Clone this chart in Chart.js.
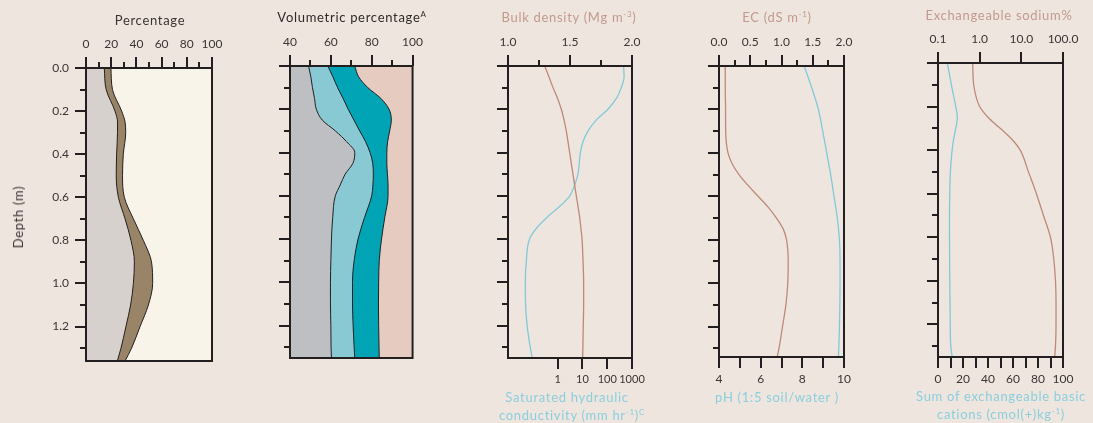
<!DOCTYPE html>
<html>
<head>
<meta charset="utf-8">
<script src="https://cdn.jsdelivr.net/npm/chart.js@4/dist/chart.umd.min.js"></script>
<style>
  body { margin: 0; background: #EFE5DF; font-family: Lato, "Open Sans", sans-serif; }
  #page { position: relative; width: 1093px; height: 423px; overflow: hidden; }
  .box { position: absolute; top: 0; height: 423px; }
  .t { position: absolute; transform: translate(-50%, -50%); white-space: nowrap; font-size: 13px; color: #3a3434; letter-spacing: 0.7px; }
  .t sup { font-size: 8px; vertical-align: 5px; line-height: 0; }
  .brown { color: #C29A8D; }
  .blue { color: #8ACFDD; }
</style>
</head>
<body>
<div id="page">
  <div class="box" style="left:0;width:230px"><canvas id="c1"></canvas></div>
  <div class="box" style="left:230px;width:200px"><canvas id="c2"></canvas></div>
  <div class="box" style="left:460px;width:200px"><canvas id="c3"></canvas></div>
  <div class="box" style="left:680px;width:200px"><canvas id="c4"></canvas></div>
  <div class="box" style="left:890px;width:203px"><canvas id="c5"></canvas></div>

  <div class="t" style="left:150px;top:20px">Percentage</div>
  <div class="t" style="left:352px;top:17px;color:#2e2828">Volumetric percentage<sup>A</sup></div>
  <div class="t brown" style="left:569px;top:17px">Bulk density (Mg m<sup>-3</sup>)</div>
  <div class="t brown" style="left:777px;top:17px">EC (dS m<sup>-1</sup>)</div>
  <div class="t brown" style="left:999px;top:15px">Exchangeable sodium%</div>
  <div class="t" style="left:18px;top:217px;transform:translate(-50%,-50%) rotate(-90deg)">Depth (m)</div>
  <div class="t blue" style="left:567px;top:397px">Saturated hydraulic</div>
  <div class="t blue" style="left:572px;top:415px">conductivity (mm hr<sup>-1</sup>)<sup>C</sup></div>
  <div class="t blue" style="left:777px;top:397px">pH (1:5 soil/water )</div>
  <div class="t blue" style="left:1001px;top:396px">Sum of exchangeable basic</div>
  <div class="t blue" style="left:1001px;top:414px">cations (cmol(+)kg<sup>-1</sup>)</div>
</div>

<script>
// ---- data (depth in m) ----
const depth1 = [0, 0.1, 0.2, 0.25, 0.3, 0.4, 0.5, 0.6, 0.7, 0.8, 0.9, 1.0, 1.1, 1.2, 1.3, 1.36];
const clayEdge = [14.5, 16, 23, 25, 25, 24.3, 24, 25.7, 31, 35.7, 38.4, 37.6, 35.4, 31.7, 27.8, 24.9];
const siltEdge = [19.8, 21, 28.3, 31, 31.5, 29.6, 29, 30.4, 37.6, 45.5, 52, 52.9, 49.5, 42.9, 36.2, 31];

const depth2 = [0, 0.05, 0.1, 0.15, 0.2, 0.25, 0.3, 0.35, 0.4, 0.45, 0.5, 0.55, 0.6, 0.7, 0.8, 0.9, 1.0, 1.1, 1.2, 1.3, 1.35];
const volEdge1 = [49.1, 50.2, 51, 52, 52.9, 55.8, 62.2, 67.7, 71.7, 70.8, 67, 64.6, 62.2, 60.9, 60.3, 60, 59.8, 59.8, 60, 60.1, 60.3];
const volEdge2 = [58.5, 61, 63.3, 66, 68.5, 71.3, 74.1, 77, 79.2, 80.5, 80.8, 80.6, 80, 76.5, 73.3, 71.4, 70.6, 70.6, 70.9, 71.4, 71.7];
const volEdge3 = [71.7, 73.6, 78.1, 84.5, 88.5, 89.6, 88.8, 87.8, 87.4, 87.4, 87.7, 88, 88, 86.4, 84.8, 83.7, 83.4, 83.3, 83.4, 83.6, 83.7];

const depth3 = [0, 0.05, 0.1, 0.15, 0.2, 0.25, 0.3, 0.35, 0.4, 0.5, 0.55, 0.6, 0.65, 0.7, 0.75, 0.8, 0.9, 1.0, 1.1, 1.2, 1.3, 1.35];
const bulkDensity = [1.296, 1.33, 1.363, 1.40, 1.43, 1.452, 1.47, 1.484, 1.497, 1.524, 1.537, 1.551, 1.565, 1.578, 1.588, 1.597, 1.605, 1.61, 1.61, 1.607, 1.604, 1.602];
const ksat = [460, 480, 370, 235, 107, 36, 17, 10.5, 8.3, 6.6, 4.9, 3.1, 1.2, 0.37, 0.14, 0.074, 0.055, 0.05, 0.051, 0.059, 0.079, 0.095];

const depthEC = [0, 0.1, 0.2, 0.3, 0.4, 0.45, 0.5, 0.55, 0.6, 0.65, 0.7, 0.75, 0.8, 0.9, 1.0, 1.1, 1.2, 1.3, 1.34];
const ec = [0.10, 0.10, 0.105, 0.107, 0.144, 0.21, 0.32, 0.465, 0.626, 0.786, 0.92, 1.027, 1.08, 1.107, 1.10, 1.07, 1.016, 0.96, 0.93];
const depthPH = [0, 0.1, 0.2, 0.3, 0.4, 0.5, 0.6, 0.7, 0.8, 0.9, 1.0, 1.1, 1.2, 1.3, 1.34];
const ph = [8.09, 8.45, 8.77, 8.98, 9.17, 9.36, 9.52, 9.68, 9.78, 9.81, 9.81, 9.8, 9.78, 9.75, 9.73];

const depth5 = [0, 0.1, 0.2, 0.25, 0.3, 0.35, 0.4, 0.5, 0.6, 0.7, 0.8, 0.9, 1.0, 1.1, 1.2, 1.3, 1.35];
const sodium = [0.68, 0.72, 1.0, 1.6, 3.1, 5.9, 9.4, 14.8, 23, 34, 50, 60, 66, 68, 68, 66, 63];
const cations = [7.5, 10.7, 14.2, 15.5, 14.2, 12.5, 11.3, 9.9, 9.4, 9.2, 9.2, 9.3, 9.4, 9.6, 9.8, 10.2, 11.3];

const depthTicks = [0, 0.1, 0.2, 0.3, 0.4, 0.5, 0.6, 0.7, 0.8, 0.9, 1.0, 1.1, 1.2, 1.3];
const ksatTicks = [1, 10, 100, 1000];
const ksatLabels = ['1', '10', '100', '1000'];
const sodiumTicks = [0.1, 1, 10, 100];
const sodiumLabels = ['0.1', '1.0', '10.0', '100.0'];

const INK = '#231f20';
const BROWN_LINE = '#BC8A76';
const BLUE_LINE = '#80CAD8';

Chart.defaults.font.family = 'Lato';
Chart.defaults.font.size = 12;
Chart.defaults.color = '#3a3434';

function pts(ys, xs) { return ys.map((y, i) => ({ x: xs[i], y: y })); }

// frame + tick marks (major ones longer), drawn from the chart's own scales
const frame = {
  id: 'frame',
  beforeDraw(chart, args, opts) {
    const a = chart.chartArea, ctx = chart.ctx;
    if (opts.bg) { ctx.save(); ctx.fillStyle = opts.bg; ctx.fillRect(a.left, a.top, a.right - a.left, a.bottom - a.top); ctx.restore(); }
  },
  afterDraw(chart, args, opts) {
    const a = chart.chartArea, ctx = chart.ctx;
    ctx.save();
    ctx.strokeStyle = INK;
    ctx.lineWidth = 2;
    Object.values(chart.scales).forEach(s => {
      const step = (opts.major || {})[s.id] || 0;
      s.ticks.forEach(t => {
        const p = Math.round(s.getPixelForValue(t.value));
        const r = step ? t.value / step : 0;
        const len = (!step || Math.abs(r - Math.round(r)) < 1e-6) ? 11 : 6;
        ctx.beginPath();
        if (s.position === 'left') { ctx.moveTo(a.left - len, p); ctx.lineTo(a.left, p); }
        else if (s.position === 'top') { ctx.moveTo(p, a.top - len); ctx.lineTo(p, a.top); }
        else { ctx.moveTo(p, a.bottom); ctx.lineTo(p, a.bottom + len); }
        ctx.stroke();
      });
    });
    ctx.strokeRect(a.left, a.top, a.right - a.left, a.bottom - a.top);
    ctx.restore();
  }
};

const hiddenGrid = { display: true, drawOnChartArea: false, drawTicks: true, tickLength: 11, color: 'rgba(0,0,0,0)' };

function depthAxis(width, max, labels) {
  return {
    type: 'linear', position: 'left', reverse: true, min: 0, max: max,
    grid: hiddenGrid, border: { display: false },
    afterBuildTicks: s => { s.ticks = depthTicks.map(v => ({ value: v })); },
    afterFit: s => { s.width = width; },
    ticks: {
      padding: 6,
      callback: v => (labels && Math.abs(v * 5 - Math.round(v * 5)) < 1e-6) ? v.toFixed(1) : ''
    }
  };
}

function linAxis(pos, min, max, every, labelEvery, size, fmt) {
  const vals = [];
  for (let v = min; v <= max + 1e-9; v += every) vals.push(+v.toFixed(4));
  return {
    type: 'linear', position: pos, min: min, max: max,
    grid: Object.assign({}, hiddenGrid, { tickLength: pos === 'top' ? 10 : 11 }),
    border: { display: false },
    afterBuildTicks: s => { s.ticks = vals.map(v => ({ value: v })); },
    afterFit: s => { s.height = size; },
    ticks: {
      padding: pos === 'top' ? 7 : 4, maxRotation: 0, autoSkip: false,
      callback: v => { const r = (v - min) / labelEvery; return Math.abs(r - Math.round(r)) < 1e-6 ? fmt(v) : ''; }
    }
  };
}

function logAxis(pos, min, max, tickVals, labels, size, fontSize) {
  return {
    type: 'logarithmic', position: pos, min: min, max: max,
    grid: Object.assign({}, hiddenGrid, { tickLength: pos === 'top' ? 10 : 11 }),
    border: { display: false },
    afterBuildTicks: s => { s.ticks = tickVals.map(v => ({ value: v })); },
    afterFit: s => { s.height = size; },
    ticks: {
      padding: pos === 'top' ? 7 : 4, maxRotation: 0, autoSkip: false,
      font: { size: fontSize || 12 },
      callback: v => { const i = tickVals.indexOf(v); return i >= 0 ? labels[i] : ''; }
    }
  };
}

function fillSet(data, color, axis, base) {
  return { data: data, xAxisID: axis, fill: { value: base }, backgroundColor: color, borderColor: INK, borderWidth: 1,
    pointRadius: 0, cubicInterpolationMode: 'monotone' };
}
function lineSet(data, color, axis) {
  return { data: data, xAxisID: axis, fill: false, borderColor: color, borderWidth: 1.3,
    pointRadius: 0, cubicInterpolationMode: 'monotone' };
}

function make(id, datasets, scales, padding, frameOpts) {
  return new Chart(document.getElementById(id), {
    type: 'line',
    data: { datasets: datasets },
    plugins: [frame],
    options: {
      indexAxis: 'y', responsive: true, maintainAspectRatio: false, animation: false,
      layout: { padding: padding },
      plugins: { legend: { display: false }, tooltip: { enabled: false }, frame: frameOpts },
      scales: scales
    }
  });
}

// 1: particle size percentages
make('c1', [
  fillSet(pts(depth1, clayEdge), '#D6D1CC', 'xTop', 0),
  fillSet(pts(depth1, siltEdge), '#9A8468', 'xTop', 0)
], {
  y: depthAxis(86, 1.36, true),
  xTop: linAxis('top', 0, 100, 10, 20, 68, v => String(v))
}, { left: 0, right: 18, top: 0, bottom: 62 }, { bg: '#F8F4E9', major: { y: 0.2, xTop: 20 } });

// 2: volumetric percentage
make('c2', [
  fillSet(pts(depth2, volEdge1), '#BEBFC3', 'xTop', 40),
  fillSet(pts(depth2, volEdge2), '#88C9D3', 'xTop', 40),
  fillSet(pts(depth2, volEdge3), '#00A4B4', 'xTop', 40)
], {
  y: depthAxis(60, 1.35, false),
  xTop: linAxis('top', 40, 100, 10, 20, 66, v => String(v))
}, { left: 0, right: 14, top: 0, bottom: 65 }, { bg: '#E6CBC0', major: { y: 0.2, xTop: 20 } });

// 3: bulk density + saturated hydraulic conductivity
make('c3', [
  lineSet(pts(depth3, bulkDensity), BROWN_LINE, 'xTop'),
  lineSet(pts(depth3, ksat), BLUE_LINE, 'xBot')
], {
  y: depthAxis(48, 1.35, false),
  xTop: linAxis('top', 1.0, 2.0, 0.25, 0.5, 66, v => v.toFixed(1)),
  xBot: logAxis('bottom', 0.01, 1000, ksatTicks, ksatLabels, 65, 11)
}, { left: 0, right: 28, top: 0, bottom: 0 }, { major: { y: 0.2, xTop: 0.5 } });

// 4: EC + pH
make('c4', [
  lineSet(pts(depthEC, ec), BROWN_LINE, 'xTop'),
  lineSet(pts(depthPH, ph), BLUE_LINE, 'xBot')
], {
  y: depthAxis(39, 1.34, false),
  xTop: linAxis('top', 0, 2.0, 0.25, 0.5, 66, v => v.toFixed(1)),
  xBot: linAxis('bottom', 4, 10, 1, 2, 66, v => String(v))
}, { left: 0, right: 36, top: 0, bottom: 0 }, { major: { y: 0.2, xTop: 0.5 } });

// 5: exchangeable sodium + basic cations
make('c5', [
  lineSet(pts(depth5, sodium), BROWN_LINE, 'xTop'),
  lineSet(pts(depth5, cations), BLUE_LINE, 'xBot')
], {
  y: depthAxis(48, 1.35, false),
  xTop: logAxis('top', 0.1, 100, sodiumTicks, sodiumLabels, 63),
  xBot: linAxis('bottom', 0, 100, 10, 20, 66, v => String(v))
}, { left: 0, right: 30, top: 0, bottom: 0 }, { major: { y: 0.2 } });
</script>
</body>
</html>
